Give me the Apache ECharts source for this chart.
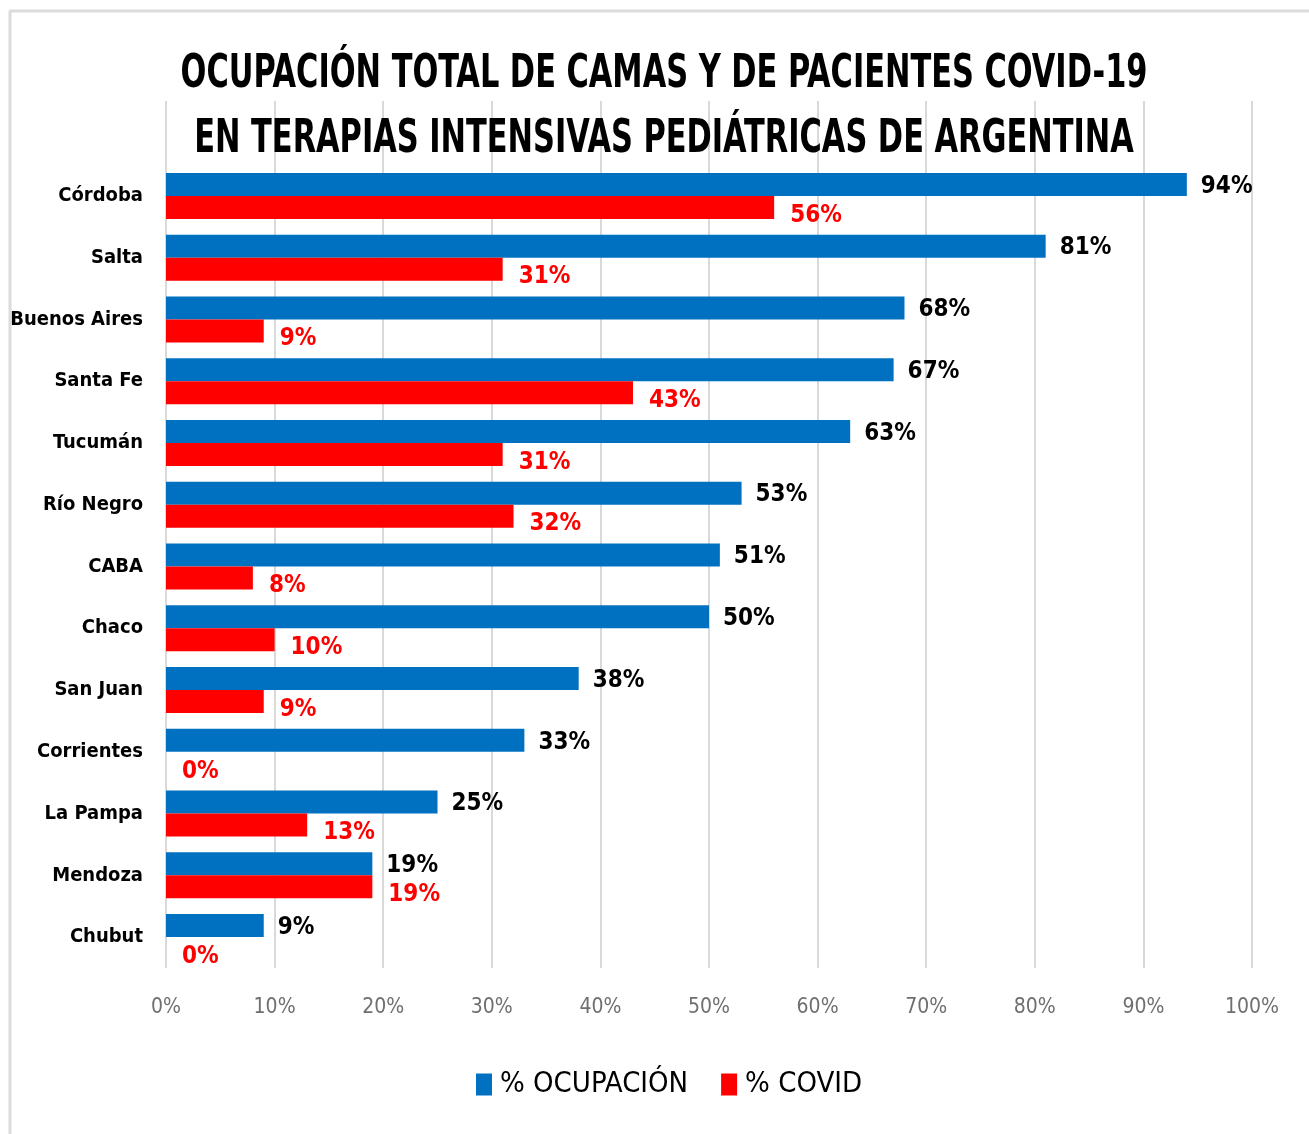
<!DOCTYPE html>
<html>
<head>
<meta charset="utf-8">
<script src="https://cdn.jsdelivr.net/npm/echarts@6/dist/echarts.min.js"></script>
<style>
html,body{margin:0;padding:0;background:#fff;}
#c{width:1309px;height:1134px;}
</style>
</head>
<body>
<div id="c"></div>
<script>
const categories = ['Córdoba','Salta','Buenos Aires','Santa Fe','Tucumán','Río Negro','CABA','Chaco','San Juan','Corrientes','La Pampa','Mendoza','Chubut'];
const ocupacion = [94,81,68,67,63,53,51,50,38,33,25,19,9];
const covid = [56,31,9,43,31,32,8,10,9,0,13,19,0];
const seriesNames = ['% OCUPACIÓN','% COVID'];
const titleLines = ['OCUPACIÓN TOTAL DE CAMAS Y DE PACIENTES COVID-19','EN TERAPIAS INTENSIVAS PEDIÁTRICAS DE ARGENTINA'];

const FONT = '"Liberation Sans Narrow","DejaVu Sans Condensed","Arial Narrow",sans-serif';
const chart = echarts.init(document.getElementById('c'));
chart.setOption({
  backgroundColor: '#ffffff',
  animation: false,
  legend: {
    data: seriesNames,
    left: 476, top: 1070, padding: 0,
    icon: 'rect', itemWidth: 16, itemHeight: 22, itemGap: 33,
    textStyle: {fontFamily: FONT, fontSize: 29, color: '#000', padding: [0, 0, 0, 3]}
  },
  graphic: [
    {type: 'line', shape: {x1: 9, y1: 11, x2: 1309, y2: 11}, style: {stroke: '#dcdcdc', lineWidth: 3}, silent: true},
    {type: 'line', shape: {x1: 10, y1: 11, x2: 10, y2: 1134}, style: {stroke: '#dcdcdc', lineWidth: 3}, silent: true},
    {type: 'text', x: 664, y: 75, scaleX: 0.735, z: 10,
      style: {text: titleLines[0], fontFamily: FONT, fontSize: 46, fontWeight: 'bold', fill: '#000', textAlign: 'center', textVerticalAlign: 'middle'}},
    {type: 'text', x: 664, y: 140, scaleX: 0.735, z: 10,
      style: {text: titleLines[1], fontFamily: FONT, fontSize: 46, fontWeight: 'bold', fill: '#000', textAlign: 'center', textVerticalAlign: 'middle'}}
  ],
  grid: [
    {left: 166, right: 57, top: 165, bottom: 166, containLabel: false, outerBoundsMode: 'none'},
    {left: 166, right: 57, top: 101, bottom: 166, containLabel: false, outerBoundsMode: 'none'}
  ],
  xAxis: [
    {
      type: 'value', gridIndex: 0, min: 0, max: 100, interval: 10,
      axisLine: {show: false}, axisTick: {show: false},
      splitLine: {show: false},
      axisLabel: {formatter: '{value}%', margin: 29, fontFamily: FONT, fontSize: 21, color: '#6f6f6f'}
    },
    {
      type: 'value', gridIndex: 1, min: 0, max: 100, interval: 10,
      axisLine: {show: false}, axisTick: {show: false}, axisLabel: {show: false},
      splitLine: {show: true, lineStyle: {color: '#d9d9d9', width: 2}}
    }
  ],
  yAxis: [
    {
      type: 'category', gridIndex: 0, data: categories, inverse: true,
      axisLine: {show: false}, axisTick: {show: false},
      axisLabel: {margin: 23, fontFamily: FONT, fontSize: 20, fontWeight: 'bold', color: '#000'}
    },
    {
      type: 'value', gridIndex: 1, show: false
    }
  ],
  series: [
    {
      name: seriesNames[0], type: 'bar', xAxisIndex: 0, yAxisIndex: 0,
      data: ocupacion, barWidth: 23, barGap: '0%',
      itemStyle: {color: '#0070C0'},
      label: {show: true, position: 'right', distance: 14, offset: [0, 2], formatter: '{c}%',
        fontFamily: FONT, fontSize: 24, fontWeight: 'bold', color: '#000'}
    },
    {
      name: seriesNames[1], type: 'bar', xAxisIndex: 0, yAxisIndex: 0,
      data: covid, barWidth: 23, barGap: '0%',
      itemStyle: {color: '#FF0000'},
      label: {show: true, position: 'right', distance: 16, offset: [0, 8], formatter: '{c}%',
        fontFamily: FONT, fontSize: 24, fontWeight: 'bold', color: '#FF0000'}
    }
  ]
});
</script>
</body>
</html>
